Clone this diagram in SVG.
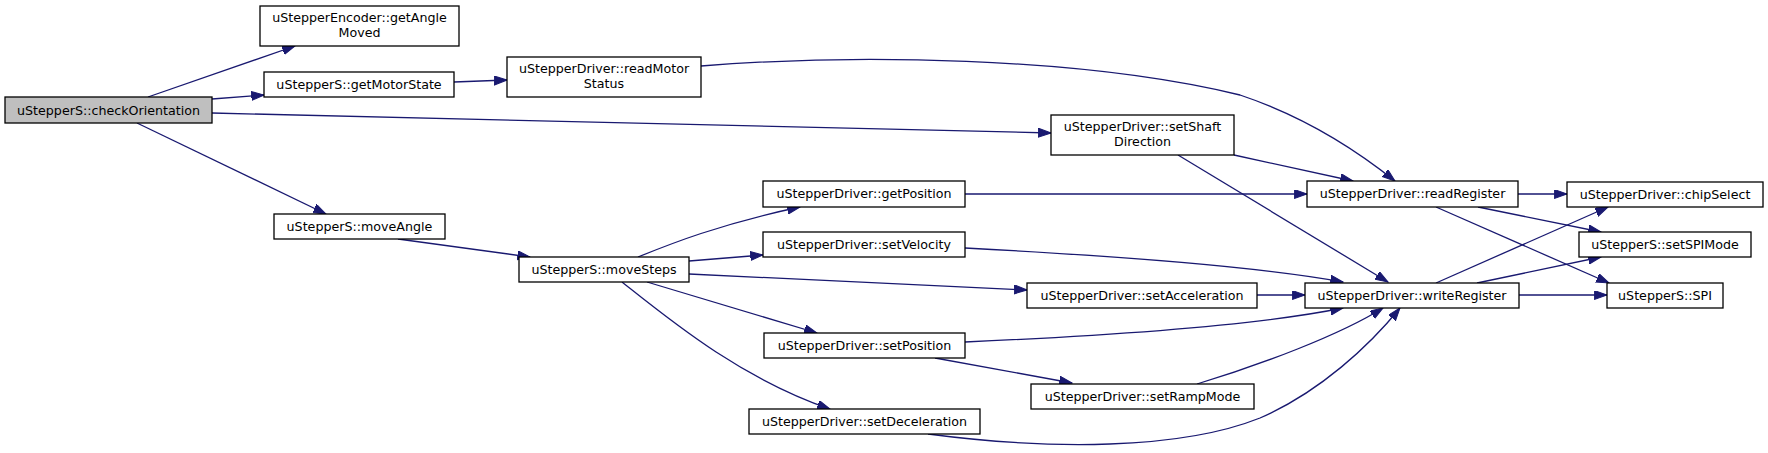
<svg xmlns="http://www.w3.org/2000/svg" width="1768" height="453" viewBox="0 0 1768 453">
<defs>
<marker id="ah" markerUnits="userSpaceOnUse" markerWidth="14" markerHeight="10" refX="12.7" refY="4.5" orient="auto">
<path d="M0,0 L12.7,4.5 L0,9 z" fill="#191970" stroke="#191970" stroke-width="1"/>
</marker>
<style>
.n rect{fill:#ffffff;stroke:#000000;stroke-width:1.3}
.n.cur rect{fill:#bfbfbf;stroke:#000000}
.n text{font-family:"DejaVu Sans",sans-serif;font-size:12.67px;fill:#000000;text-anchor:middle}
.e path{fill:none;stroke:#191970;stroke-width:1.3;marker-end:url(#ah)}
</style>
</defs>
<rect width="1768" height="453" fill="#ffffff"/>
<g id="edges" class="e">
<path d="M148,97 L295,46"/>
<path d="M212,99 L264,95"/>
<path d="M212,113 L1051,133"/>
<path d="M137,123 L326,214"/>
<path d="M454,82 L507,80"/>
<path d="M701,66 C850,54 1080,56 1240,95 C1300,115 1350,145 1395,181"/>
<path d="M1234,155 L1353,181"/>
<path d="M1178,155 L1388,282"/>
<path d="M965,194 L1307,194"/>
<path d="M1518,194 L1567,194"/>
<path d="M1478,207 L1601,232"/>
<path d="M1436,207 L1609,283"/>
<path d="M1436,283 L1608,207"/>
<path d="M1477,283 L1601,257"/>
<path d="M1519,295 L1607,295"/>
<path d="M1257,295 L1305,295"/>
<path d="M398,239 L530,257"/>
<path d="M638,257 C670,244 720,224 800,207"/>
<path d="M689,261 L763,255"/>
<path d="M689,274 L1027,290"/>
<path d="M647,282 L817,333"/>
<path d="M622,282 C670,320 740,378 830,409"/>
<path d="M965,248 C1100,255 1250,265 1343,282"/>
<path d="M965,342 C1100,336 1260,325 1343,308"/>
<path d="M935,358 L1072,383"/>
<path d="M1197,384 C1260,365 1340,335 1383,308"/>
<path d="M928,434 C1050,450 1180,450 1260,418 C1320,392 1370,345 1400,308"/>
</g>
<g id="checkOrientation" class="n cur"><rect x="5" y="97" width="207" height="26"/><text x="108.5" y="114.5">uStepperS::checkOrientation</text></g>
<g id="getAngleMoved" class="n"><rect x="260" y="6" width="199" height="40"/><text x="359.5" y="22">uStepperEncoder::getAngle</text><text x="359.5" y="37">Moved</text></g>
<g id="getMotorState" class="n"><rect x="264" y="72" width="190" height="25"/><text x="359" y="89">uStepperS::getMotorState</text></g>
<g id="readMotorStatus" class="n"><rect x="507" y="57" width="194" height="40"/><text x="604" y="73">uStepperDriver::readMotor</text><text x="604" y="88">Status</text></g>
<g id="setShaftDirection" class="n"><rect x="1051" y="115" width="183" height="40"/><text x="1142.5" y="131">uStepperDriver::setShaft</text><text x="1142.5" y="146">Direction</text></g>
<g id="moveAngle" class="n"><rect x="274" y="214" width="171" height="25"/><text x="359.5" y="231">uStepperS::moveAngle</text></g>
<g id="moveSteps" class="n"><rect x="519" y="257" width="170" height="25"/><text x="604" y="274">uStepperS::moveSteps</text></g>
<g id="getPosition" class="n"><rect x="763" y="181" width="202" height="26"/><text x="864" y="198">uStepperDriver::getPosition</text></g>
<g id="setVelocity" class="n"><rect x="763" y="232" width="202" height="25"/><text x="864" y="249">uStepperDriver::setVelocity</text></g>
<g id="setPosition" class="n"><rect x="764" y="333" width="201" height="25"/><text x="864.5" y="350">uStepperDriver::setPosition</text></g>
<g id="setDeceleration" class="n"><rect x="749" y="409" width="231" height="25"/><text x="864.5" y="426">uStepperDriver::setDeceleration</text></g>
<g id="setAcceleration" class="n"><rect x="1027" y="283" width="230" height="25"/><text x="1142" y="300">uStepperDriver::setAcceleration</text></g>
<g id="setRampMode" class="n"><rect x="1031" y="384" width="223" height="25"/><text x="1142.5" y="401">uStepperDriver::setRampMode</text></g>
<g id="readRegister" class="n"><rect x="1307" y="181" width="211" height="26"/><text x="1412.5" y="198">uStepperDriver::readRegister</text></g>
<g id="writeRegister" class="n"><rect x="1305" y="283" width="214" height="25"/><text x="1412" y="300">uStepperDriver::writeRegister</text></g>
<g id="chipSelect" class="n"><rect x="1567" y="182" width="196" height="25"/><text x="1665" y="199">uStepperDriver::chipSelect</text></g>
<g id="setSPIMode" class="n"><rect x="1579" y="232" width="172" height="25"/><text x="1665" y="249">uStepperS::setSPIMode</text></g>
<g id="SPI" class="n"><rect x="1607" y="283" width="116" height="25"/><text x="1665" y="300">uStepperS::SPI</text></g>
</svg>
